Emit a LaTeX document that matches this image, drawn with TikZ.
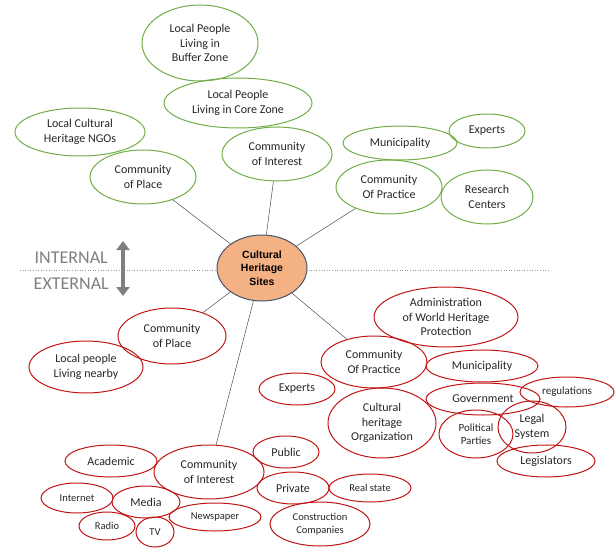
\documentclass[tikz,border=0pt]{standalone}
\usepackage{fontspec}
\setmainfont{Carlito}
\newfontfamily\arialfont{Liberation Sans}
\usetikzlibrary{shapes.geometric,arrows.meta}
\definecolor{cgreen}{RGB}{112,173,71}
\definecolor{cred}{RGB}{192,20,20}
\definecolor{corange}{RGB}{244,177,131}
\definecolor{cblue}{RGB}{68,84,106}
\definecolor{cgray}{RGB}{127,127,127}
\definecolor{ctext}{RGB}{38,38,38}
\begin{document}
\begin{tikzpicture}[x=1pt,y=-1pt,
  bub/.style={ellipse,draw,line width=1pt,inner sep=0pt,align=center,text=ctext,
    font=\fontsize{12}{14.5}\selectfont},
  gb/.style={bub,draw=cgreen},
  rb/.style={bub,draw=cred},
  sm/.style={font=\fontsize{10.5}{13}\selectfont},
  md/.style={font=\fontsize{11}{13.5}\selectfont},
  sz/.style 2 args={minimum width=#1,minimum height=#2},
  link/.style={draw=black!70,line width=0.5pt},
  sidelabel/.style={text=cgray,font=\fontsize{18}{20}\selectfont,inner sep=0pt}]
\useasboundingbox (0,0) rectangle (615,548);

% divider line
\coordinate (dl) at (20,270);
\coordinate (dr) at (550,270);
\draw[cgray!80,dotted,line width=0.6pt] (dl) -- (dr);

% internal / external
\node[sidelabel,anchor=east] (int) at (108,258) {INTERNAL};
\node[sidelabel,anchor=east] (ext) at (109,284) {EXTERNAL};
\coordinate (at) at (123,241);
\coordinate (ab) at (123,296);
\draw[cgray,line width=4.5pt,{Triangle[width=13pt,length=9pt]}-{Triangle[width=13pt,length=9pt]}] (at) -- (ab);

% central
\node[ellipse,draw=cblue,fill=corange,line width=1pt,inner sep=0pt,align=center,
  minimum width=90,minimum height=66,
  font=\arialfont\bfseries\fontsize{10.5}{13.3}\selectfont] (c) at (262,268) {Cultural\\Heritage\\Sites};

% green (internal)
\node[gb,sz={116}{76}] (buf) at (200,43) {Local People\\Living in\\Buffer Zone};
\node[gb,sz={148}{50}] (core) at (238,103) {Local People\\Living in Core Zone};
\node[gb,sz={130}{48}] (ngo) at (80,132) {Local Cultural\\Heritage NGOs};
\node[gb,sz={106}{54}] (gplace) at (143,177) {Community\\of Place};
\node[gb,sz={110}{54}] (ginter) at (277,154) {Community\\of Interest};
\node[gb,sz={114}{34}] (gmun) at (400,143) {Municipality};
\node[gb,sz={76}{34}] (gexp) at (487,131) {Experts};
\node[gb,sz={106}{54}] (gprac) at (389,187) {Community\\Of Practice};
\node[gb,sz={92}{54}] (gres) at (487,197) {Research\\Centers};

% red (external)
\node[rb,sz={108}{56}] (rplace) at (172,336) {Community\\of Place};
\node[rb,sz={114}{52}] (rnear) at (86,367) {Local people\\Living nearby};
\node[rb,sz={144}{60}] (admin) at (446,317) {Administration\\of World Heritage\\Protection};
\node[rb,sz={106}{52}] (rprac) at (374,362) {Community\\Of Practice};
\node[rb,sz={76}{32}] (rexp) at (297,389) {Experts};
\node[rb,sz={112}{32}] (rmun) at (482,366) {Municipality};
\node[rb,sz={114}{32}] (gov) at (483,399) {Government};
\node[rb,md,sz={94}{30}] (reg) at (567,392) {regulations};
\node[rb,sz={108}{70}] (cho) at (382,423) {Cultural\\heritage\\Organization};
\node[rb,sz={68}{52}] (legal) at (532,427) {Legal\\System};
\node[rb,md,sz={74}{48}] (pol) at (476,434) {Political\\Parties};
\node[rb,sz={98}{32}] (legis) at (546,461) {Legislators};
\node[rb,sz={110}{54}] (rinter) at (209,472) {Community\\of Interest};
\node[rb,sz={66}{32}] (pub) at (286,452) {Public};
\node[rb,sz={92}{32}] (acad) at (111,461) {Academic};
\node[rb,sz={72}{32}] (priv) at (293,488) {Private};
\node[rb,sm,sz={82}{28}] (real) at (370,488) {Real state};
\node[rb,sm,sz={100}{44}] (constr) at (320,524) {Construction\\Companies};
\node[rb,sm,sz={72}{30}] (inet) at (77,498) {Internet};
\node[rb,sz={68}{32}] (media) at (146,502) {Media};
\node[rb,sm,sz={92}{28}] (news) at (215,517) {Newspaper};
\node[rb,sm,sz={56}{28}] (radio) at (107,526) {Radio};
\node[rb,sm,sz={38}{30}] (tv) at (155,532) {TV};

% links
\draw[link] (c) -- (gplace);
\draw[link] (c) -- (ginter);
\draw[link] (c) -- (gprac);
\draw[link] (c) -- (rplace);
\draw[link] (c) -- (rinter);
\draw[link] (c) -- (rprac);
\end{tikzpicture}
\end{document}
